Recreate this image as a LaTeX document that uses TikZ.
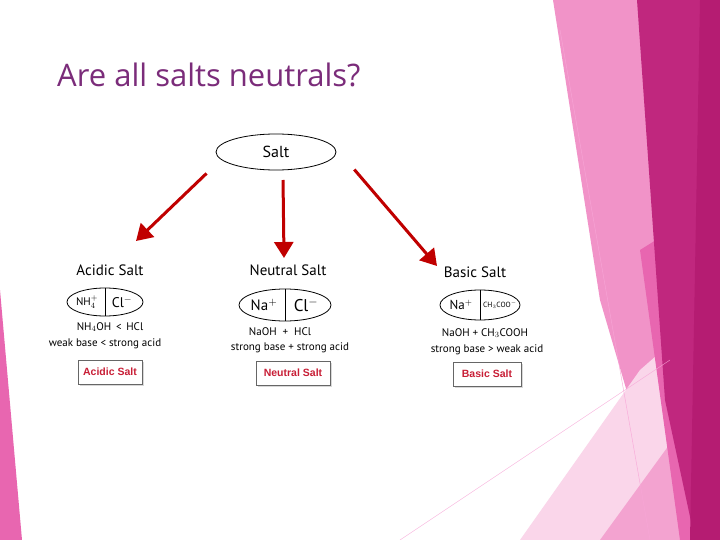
\documentclass[tikz,border=0pt]{standalone}
\usepackage{fontspec}
\setmainfont{Open Sans}
\newfontfamily\hand{PT Sans}
\newfontfamily\arial{Liberation Sans}
\usetikzlibrary{arrows.meta,shadows,shapes.geometric}
\definecolor{titlec}{HTML}{7B2C7A}
\definecolor{arr}{HTML}{C00000}
\definecolor{boxred}{HTML}{C81E36}
\definecolor{band}{HTML}{F193C8}
\definecolor{bandb}{HTML}{E866B0}
\definecolor{dark}{HTML}{C0277E}
\definecolor{darker}{HTML}{B51C72}
\definecolor{pale}{HTML}{FAD6EA}
\begin{document}
\begin{tikzpicture}[x=1pt,y=-1pt,
  hw/.style={font=\hand\fontsize{11}{12}\selectfont,inner sep=0pt},
  ttl/.style={font=\hand\fontsize{15}{16}\selectfont,inner sep=0pt},
  arrow/.style={draw=arr,line width=3pt,-{Triangle[length=16pt,width=19pt]},shorten <=2pt},
  oval/.style={draw,ellipse,line width=0.8pt},
  res/.style={draw=gray!80!black,fill=white,font=\arial\bfseries\fontsize{10.5}{12}\selectfont,text=boxred,minimum height=24pt,drop shadow={shadow xshift=2pt,shadow yshift=-2pt,fill=gray!60}}]
\useasboundingbox (0,0) rectangle (720,540);
\fill[white] (0,0) rectangle (720,540);
% decoration right
\fill[band] (553,0) -- (720,0) -- (720,540) -- (640,540) -- (650,470) -- (600,300) -- cycle;
\fill[pale] (520,540) -- (640,370) -- (720,300) -- (720,540) -- cycle;
\fill[band!85] (600,540) -- (680,430) -- (720,400) -- (720,540) -- cycle;
\fill[bandb] (640,250) -- (720,200) -- (720,540) -- (680,540) -- cycle;
\fill[dark] (637,0) -- (720,0) -- (720,540) -- (695,540) -- (665,400) -- cycle;
\fill[darker] (700,0) -- (720,0) -- (720,540) -- (690,540) -- cycle;
\draw[magenta!35,line width=0.4pt] (560,30) -- (650,540);
\draw[magenta!35,line width=0.4pt] (400,540) -- (670,360);
% left decoration
\fill[bandb] (0,290) -- (22,540) -- (0,540) -- cycle;
% title
\node[anchor=west,text=titlec,font=\fontsize{31}{36}\selectfont,inner sep=0pt] (title) at (57,75) {Are all salts neutrals?};
% diagram
\node[oval,minimum width=120pt,minimum height=36pt,font=\hand\fontsize{16}{18}\selectfont] (salt) at (276,152) {Salt};
\coordinate (a1) at (208,172); \coordinate (a2) at (136,241);
\coordinate (b1) at (283,178); \coordinate (b2) at (284,258);
\coordinate (c1) at (353,168); \coordinate (c2) at (437,266);
\draw[arrow] (a1) -- (a2);
\draw[arrow] (b1) -- (b2);
\draw[arrow] (c1) -- (c2);
\node[ttl] (ta) at (110,270) {Acidic Salt};
\node[ttl] (tb) at (288,270) {Neutral Salt};
\node[ttl] (tc) at (475,272) {Basic Salt};
\node[oval,minimum width=76pt,minimum height=28pt] (ea) at (105,302) {};
\draw (ea.north) -- (ea.south);
\node[hw] at (87,302) {NH$_4^+$}; \node[hw,font=\hand\fontsize{14}{14}\selectfont] at (122,302) {Cl$^-$};
\node[oval,minimum width=92pt,minimum height=32pt] (eb) at (285,305) {};
\draw (eb.north) -- (eb.south);
\node[hw,font=\hand\fontsize{15}{14}\selectfont] at (264,305) {Na$^+$}; \node[hw,font=\hand\fontsize{17}{14}\selectfont] at (306,305) {Cl$^-$};
\node[oval,minimum width=80pt,minimum height=30pt] (ec) at (480,305) {};
\draw (ec.north) -- (ec.south);
\node[hw,font=\hand\fontsize{13}{12}\selectfont] at (461,305) {Na$^+$}; \node[hw,font=\hand\fontsize{7.5}{9}\selectfont,anchor=west] at (483,305) {CH$_3$COO$^-$};
\node[hw] (la1) at (110,327) {NH$_4$OH \,<\, HCl};
\node[hw] (la2) at (105,344) {weak base < strong acid};
\node[hw] (lb1) at (280,332) {NaOH \;+\; HCl};
\node[hw] (lb2) at (290,348) {strong base + strong acid};
\node[hw] (lc1) at (485,333) {NaOH + CH$_3$COOH};
\node[hw] (lc2) at (487,350) {strong base > weak acid};
\node[res,minimum width=64pt] (ra) at (110,372) {Acidic Salt};
\node[res,minimum width=74pt] (rb) at (293,373) {Neutral Salt};
\node[res,minimum width=68pt] (rc) at (487,374) {Basic Salt};
\end{tikzpicture}
\end{document}
